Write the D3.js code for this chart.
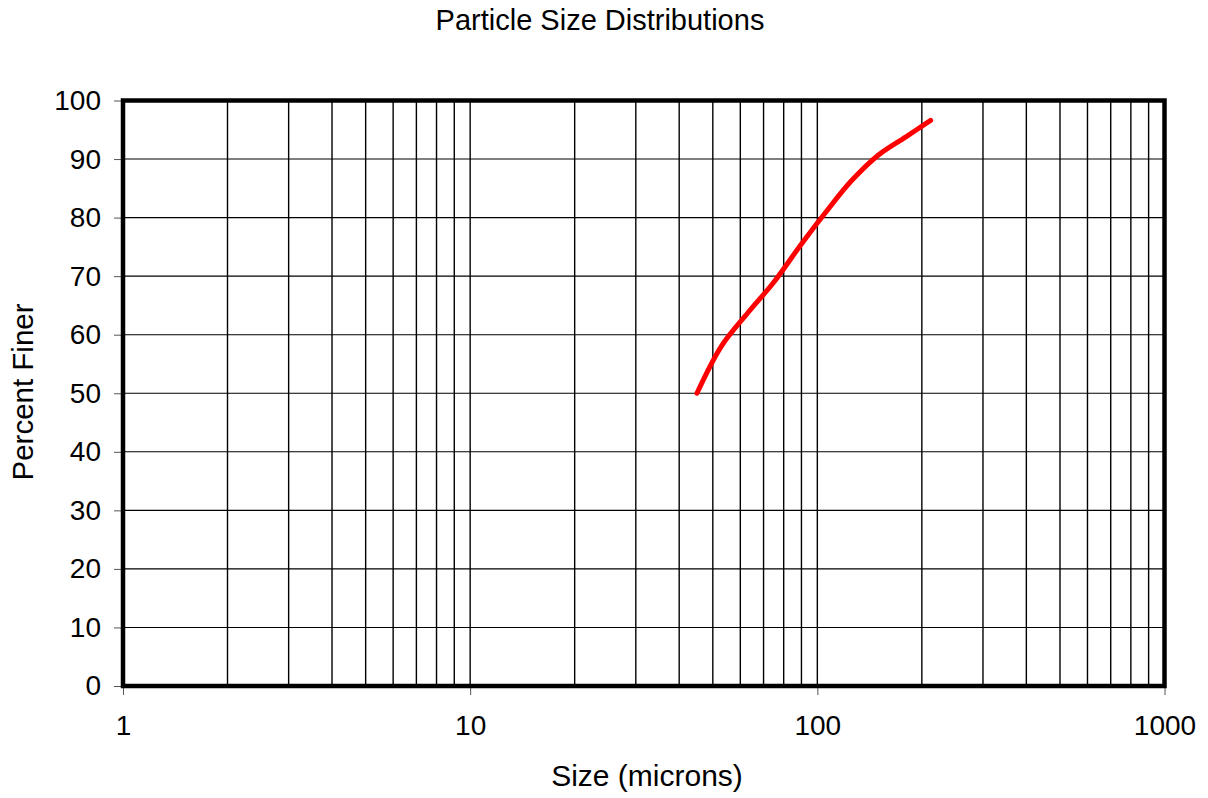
<!DOCTYPE html>
<html><head><meta charset="utf-8">
<script src="https://cdn.jsdelivr.net/npm/d3@7"></script>
<style>
html,body{margin:0;padding:0;background:#fff;}
svg{display:block;font-family:"Liberation Sans",Arial,sans-serif;}
</style></head>
<body>
<svg id="chart" width="1208" height="798"></svg>
<script>
// Data
const sizes = [45, 53, 63, 75, 90, 106, 125, 150, 180, 212];
const percentFiner = [50, 58.1, 63.7, 69.0, 75.5, 81.0, 86.2, 90.7, 93.8, 96.6];
const xTickValues = [1, 10, 100, 1000];
const yTickValues = [0, 10, 20, 30, 40, 50, 60, 70, 80, 90, 100];
const titleText = "Particle Size Distributions";
const xLabel = "Size (microns)";
const yLabel = "Percent Finer";

const svg = d3.select("#chart");
const L = 123, R = 1164.5, T = 100.5, B = 686;

const x = d3.scaleLog().domain([1, 1000]).range([L, R]);
const y = d3.scaleLinear().domain([0, 100]).range([B, T]);

// minor vertical gridlines
const minor = [];
for (let d = 1; d < 1000; d *= 10) for (let k = 2; k <= 10; k++) { const v = d * k; if (v < 1000) minor.push(v); }
svg.append("g").selectAll("line").data(minor).join("line")
  .attr("x1", d => x(d)).attr("x2", d => x(d))
  .attr("y1", T).attr("y2", B)
  .attr("stroke", "#000").attr("stroke-width", 1.4);

// horizontal gridlines
svg.append("g").selectAll("line").data(yTickValues.filter(v => v > 0 && v < 100)).join("line")
  .attr("x1", L).attr("x2", R)
  .attr("y1", d => y(d)).attr("y2", d => y(d))
  .attr("stroke", "#000").attr("stroke-width", 1.1);

// Y axis ticks & labels
const yAxis = d3.axisLeft(y).tickValues(yTickValues).tickSize(9).tickPadding(13).tickFormat(d3.format("d"));
const gy = svg.append("g").attr("transform", `translate(${L},0)`).call(yAxis);
gy.select(".domain").remove();
gy.selectAll(".tick line").attr("stroke", "#555").attr("stroke-width", 1);
gy.selectAll(".tick text").attr("font-size", 28).attr("fill", "#000")
  .attr("font-family", "Liberation Sans, Arial, sans-serif");

// X axis ticks & labels
const xAxis = d3.axisBottom(x).tickValues(xTickValues).tickSize(9).tickPadding(20).tickFormat(d3.format("d"));
const gx = svg.append("g").attr("transform", `translate(0,${B})`).call(xAxis);
gx.select(".domain").remove();
gx.selectAll(".tick line").attr("stroke", "#555").attr("stroke-width", 1);
gx.selectAll(".tick text").attr("font-size", 28).attr("fill", "#000")
  .attr("font-family", "Liberation Sans, Arial, sans-serif");

// Frame
svg.append("rect").attr("x", L).attr("y", T).attr("width", R - L).attr("height", B - T)
  .attr("fill", "none").attr("stroke", "#000").attr("stroke-width", 4.5);

// Curve
const line = d3.line().x(d => x(d[0])).y(d => y(d[1])).curve(d3.curveCatmullRom.alpha(0.5));
svg.append("path").datum(sizes.map((s, i) => [s, percentFiner[i]]))
  .attr("d", line).attr("fill", "none").attr("stroke", "#ff0000")
  .attr("stroke-width", 5).attr("stroke-linecap", "round").attr("stroke-linejoin", "round");

// Title & labels
svg.append("text").attr("x", 600).attr("y", 30).attr("text-anchor", "middle")
  .attr("font-size", 29).attr("fill", "#000").text(titleText);
svg.append("text").attr("x", 647).attr("y", 786).attr("text-anchor", "middle")
  .attr("font-size", 30).attr("fill", "#000").text(xLabel);
svg.append("text").attr("transform", "translate(33,392) rotate(-90)").attr("text-anchor", "middle")
  .attr("font-size", 29.5).attr("fill", "#000").text(yLabel);
</script>
</body></html>
